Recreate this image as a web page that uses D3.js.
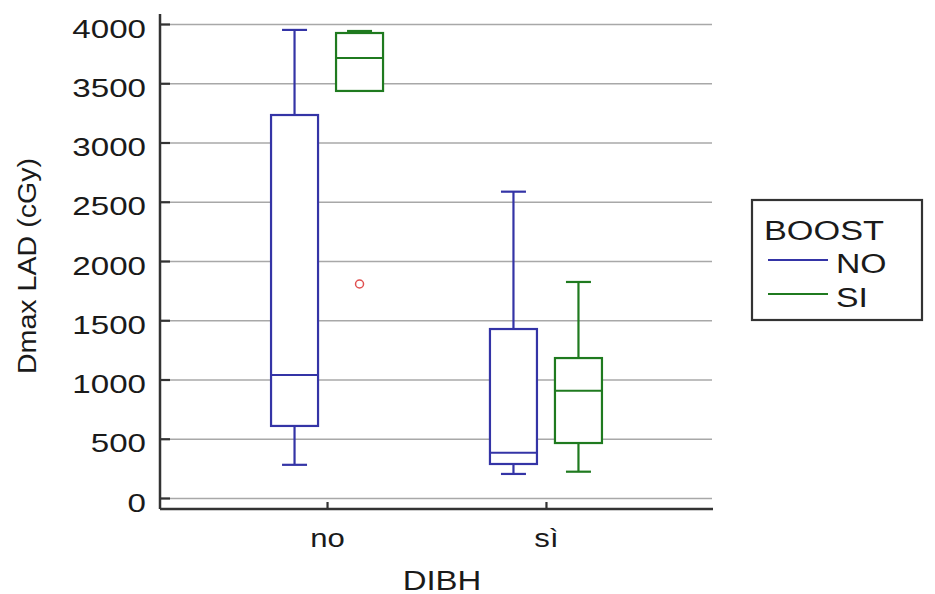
<!DOCTYPE html>
<html><head>
<meta charset="utf-8">
<script src="https://d3js.org/d3.v7.min.js"></script>
<style>
  body { margin: 0; background: #fff; }
  svg text { font-family: "Liberation Sans", Arial, sans-serif; fill: #1a1a1a; }
  .gridlines line { stroke: #a8a8a8; stroke-width: 1.6; }
  .gridlines .domain { stroke: none; }
  .axis .domain { stroke: #333; stroke-width: 2.5; }
  .axis line { stroke: #333; stroke-width: 2.2; }
</style>
</head>
<body>
<svg id="chart" width="935" height="594"></svg>
<script>
// categories and groups
const dibh = ["no", "sì"];
const boost = ["NO", "SI"];
const yTicks = [0, 500, 1000, 1500, 2000, 2500, 3000, 3500, 4000];

// box stats: [lowWhisker, q1, median, q3, highWhisker]
const boxNO = [[280, 608, 1038, 3232, 3950], [203, 287, 382, 1426, 2585]];
const boxSI = [[3435, 3435, 3713, 3924, 3941], [222, 464, 905, 1181, 1823]];
// outliers: [dibh, boost, value]
const outliers = [["no", "SI", 1806]];

const colors = { NO: "#3434a6", SI: "#1f7a1f" };

let svg = d3.select("svg#chart");
let margin = { top: 14, left: 160, right: 222, bottom: 85 };
let chartWidth = 935 - margin.left - margin.right;   // 553
let chartHeight = 594 - margin.top - margin.bottom;  // 495

const yScale = d3.scaleLinear().domain([0, 4000]).range([498, 24]);
const xScale = d3.scalePoint().domain(dibh).range([margin.left, margin.left + chartWidth]).padding(0.763);
const subScale = d3.scalePoint().domain(boost).range([-32.5, 32.5]);
const boxWidth = 47, capWidth = 25;

// gridlines
svg.append("g").attr("class", "gridlines")
  .attr("transform", "translate(" + margin.left + ",0)")
  .call(d3.axisLeft(yScale).tickValues(yTicks).tickSize(-552).tickFormat(""));

// y axis (ticks pointing inward)
let yAxis = svg.append("g").attr("class", "axis")
  .attr("transform", "translate(" + margin.left + ",0)")
  .call(d3.axisLeft(yScale).tickValues(yTicks).tickSize(-10).tickSizeOuter(0).tickFormat(d3.format("d")));
yAxis.select(".domain").attr("d", "M0," + margin.top + "V" + (margin.top + chartHeight));
yAxis.selectAll("text")
  .attr("x", 0).attr("dy", null)
  .attr("transform", "translate(-14,13) scale(1.3,1)")
  .style("font-size", "25.5px").style("fill", "#1a1a1a");

// x axis
let xAxis = svg.append("g").attr("class", "axis")
  .attr("transform", "translate(0," + (margin.top + chartHeight) + ")")
  .call(d3.axisBottom(xScale).tickSize(-7).tickSizeOuter(0));
xAxis.select(".domain").attr("d", "M" + margin.left + ",0H" + (margin.left + chartWidth));
xAxis.selectAll("text")
  .attr("y", 0).attr("dy", null)
  .attr("transform", "translate(0,38) scale(1.22,1)")
  .style("font-size", "25.5px").style("fill", "#1a1a1a");

// boxes
function drawBox(stats, cat, grp) {
  let cx = xScale(cat) + subScale(grp);
  let g = svg.append("g").attr("stroke", colors[grp]).attr("stroke-width", 2.2).attr("fill", "none");
  let [lo, q1, med, q3, hi] = stats;
  g.append("line").attr("x1", cx).attr("x2", cx).attr("y1", yScale(hi)).attr("y2", yScale(q3));
  g.append("line").attr("x1", cx).attr("x2", cx).attr("y1", yScale(q1)).attr("y2", yScale(lo));
  g.append("line").attr("x1", cx - capWidth / 2).attr("x2", cx + capWidth / 2).attr("y1", yScale(hi)).attr("y2", yScale(hi));
  if (lo < q1) {
    g.append("line").attr("x1", cx - capWidth / 2).attr("x2", cx + capWidth / 2).attr("y1", yScale(lo)).attr("y2", yScale(lo));
  }
  g.append("rect").attr("x", cx - boxWidth / 2).attr("width", boxWidth)
    .attr("y", yScale(q3)).attr("height", yScale(q1) - yScale(q3)).attr("fill", "#fff");
  g.append("line").attr("x1", cx - boxWidth / 2).attr("x2", cx + boxWidth / 2).attr("y1", yScale(med)).attr("y2", yScale(med));
}
dibh.forEach((cat, i) => {
  drawBox(boxNO[i], cat, "NO");
  drawBox(boxSI[i], cat, "SI");
});

outliers.forEach(o => {
  svg.append("circle")
    .attr("cx", xScale(o[0]) + subScale(o[1])).attr("cy", yScale(o[2]))
    .attr("r", 4).attr("fill", "none").attr("stroke", "#e05050").attr("stroke-width", 1.5);
});

// axis titles
svg.append("text")
  .attr("transform", "translate(442,590) scale(1.22,1)")
  .attr("text-anchor", "middle").style("font-size", "27px").text("DIBH");
svg.append("text")
  .attr("transform", "translate(36,266) rotate(-90) scale(1.1,1)")
  .attr("text-anchor", "middle").style("font-size", "26px").text("Dmax LAD (cGy)");

// legend
let legend = svg.append("g");
legend.append("rect").attr("x", 752).attr("y", 200).attr("width", 170).attr("height", 120)
  .attr("fill", "#fff").attr("stroke", "#333").attr("stroke-width", 2.2);
legend.append("text").attr("transform", "translate(764,240) scale(1.27,1)")
  .style("font-size", "27px").text("BOOST");
boost.forEach((b, i) => {
  let ly = 260 + i * 34;
  legend.append("line").attr("x1", 768).attr("x2", 828).attr("y1", ly).attr("y2", ly)
    .attr("stroke", colors[b]).attr("stroke-width", 2.2);
  legend.append("text").attr("transform", "translate(836," + (ly + 13) + ") scale(1.25,1)")
    .style("font-size", "27px").text(b);
});
</script>
</body>
</html>
